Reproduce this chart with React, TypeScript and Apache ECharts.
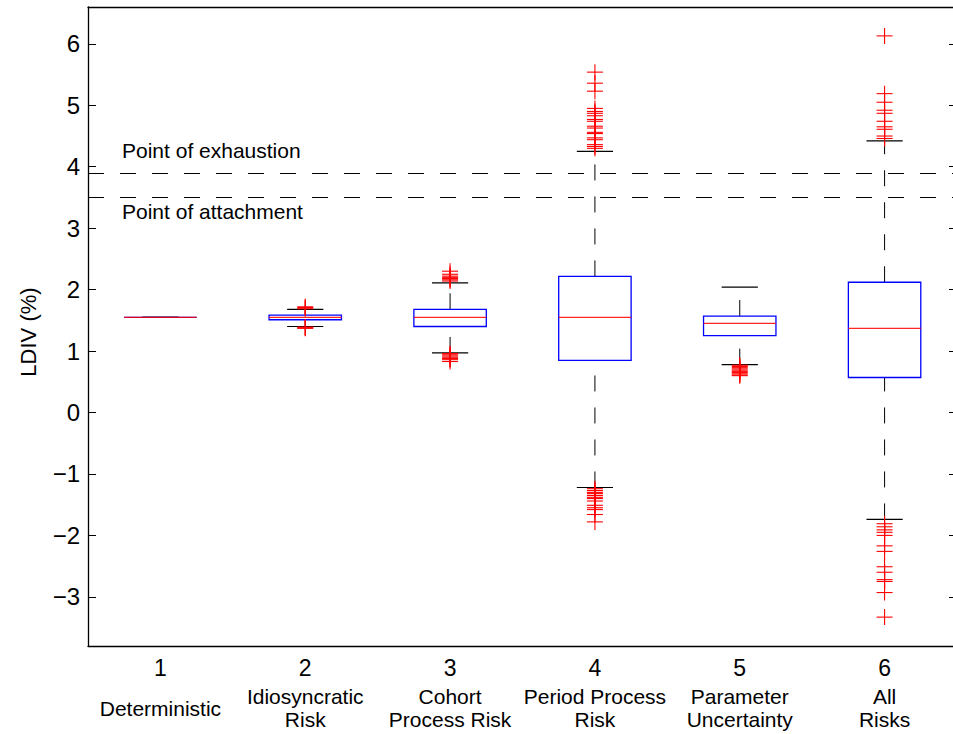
import React, { useEffect, useRef } from 'react';
import * as echarts from 'echarts';

const categories = ['1', '2', '3', '4', '5', '6'];
const categoryNames = [
  'Deterministic',
  'Idiosyncratic\nRisk',
  'Cohort\nProcess Risk',
  'Period Process\nRisk',
  'Parameter\nUncertainty',
  'All\nRisks',
];

const lowerWhisker = [1.55, 1.40, 0.97, -1.22, 0.78, -1.74];
const q1 = [1.55, 1.51, 1.40, 0.85, 1.25, 0.57];
const medians = [1.55, 1.55, 1.55, 1.55, 1.45, 1.37];
const q3 = [1.55, 1.585, 1.68, 2.215, 1.57, 2.12];
const upperWhisker = [1.55, 1.68, 2.11, 4.25, 2.04, 4.42];

const outliers1: number[] = [];
const outliers2 = [1.69, 1.71, 1.72, 1.39, 1.38, 1.37];
const outliers3 = [2.14, 2.16, 2.18, 2.20, 2.22, 2.25, 2.30, 0.96, 0.94, 0.92, 0.90, 0.88, 0.86, 0.83];
const outliers4 = [
  5.54, 5.36, 5.23, 4.95, 4.90, 4.87, 4.83, 4.77, 4.74, 4.66, 4.63, 4.56, 4.54, 4.47, 4.44, 4.36, 4.33, 4.30,
  -1.24, -1.27, -1.30, -1.32, -1.35, -1.38, -1.40, -1.44, -1.51, -1.55, -1.58, -1.66, -1.78,
];
const outliers5 = [0.77, 0.75, 0.73, 0.71, 0.69, 0.67, 0.65, 0.63, 0.61, 0.60];
const outliers6 = [
  6.13, 5.19, 5.05, 4.92, 4.87, 4.74, 4.65, 4.61, 4.50, 4.46,
  -1.81, -1.86, -1.91, -1.95, -2.00, -2.17, -2.26, -2.51, -2.60, -2.72, -2.75, -2.93, -3.33,
];
const outlierLists = [outliers1, outliers2, outliers3, outliers4, outliers5, outliers6];

const exhaustionLevel = 3.9;
const attachmentLevel = 3.5;
const yMin = -3.8;
const yMax = 6.6;

const FONT = '"Liberation Sans", Arial, Helvetica, sans-serif';

export default function App() {
  const ref = useRef<HTMLDivElement>(null);

  useEffect(() => {
    if (!ref.current) return;
    const chart = echarts.init(ref.current, undefined, { renderer: 'svg' });

    const boxData = categories.map((_, i) => [i, lowerWhisker[i], q1[i], medians[i], q3[i], upperWhisker[i]]);
    const outlierData: number[][] = [];
    outlierLists.forEach((list, i) => list.forEach((v) => outlierData.push([i, v])));

    const yFmt = (v: number) => {
      if (Math.abs(v - Math.round(v)) > 1e-6) return '';
      const r = Math.round(v);
      return r < 0 ? '\u2212' + Math.abs(r) : String(r);
    };

    const axisLineStyle = { color: '#000', width: 1.3 };

    const option: any = {
      animation: false,
      backgroundColor: '#fff',
      grid: { left: 88, right: -4, top: 7, bottom: 88, containLabel: false, outerBoundsMode: 'none' },
      xAxis: [
        {
          type: 'category',
          data: categories,
          position: 'bottom',
          axisLine: { onZero: false, lineStyle: axisLineStyle },
          axisTick: { inside: true, alignWithLabel: true, length: 8, lineStyle: { color: '#000', width: 1 } },
          axisLabel: { color: '#000', fontSize: 23, fontFamily: FONT, margin: 22, verticalAlign: 'middle' },
          splitLine: { show: false },
        },
        {
          type: 'category',
          data: categories,
          position: 'top',
          axisLine: { onZero: false, lineStyle: axisLineStyle },
          axisTick: { inside: true, alignWithLabel: true, length: 8, lineStyle: { color: '#000', width: 1 } },
          axisLabel: { show: false },
          splitLine: { show: false },
        },
        {
          type: 'category',
          data: categoryNames,
          position: 'bottom',
          axisLine: { show: false, onZero: false },
          axisTick: { show: false },
          axisLabel: {
            color: '#000',
            fontSize: 21,
            fontFamily: FONT,
            margin: 62,
            lineHeight: 23,
            verticalAlign: 'middle',
            align: 'center',
            interval: 0,
          },
          splitLine: { show: false },
        },
      ],
      yAxis: [
        {
          type: 'value',
          min: yMin,
          max: yMax,
          splitNumber: 10,
          minInterval: 1,
          maxInterval: 1,
          position: 'left',
          axisLine: { show: true, onZero: false, lineStyle: axisLineStyle },
          axisTick: { show: true, inside: true, length: 8, lineStyle: { color: '#000', width: 1 } },
          axisLabel: { color: '#000', fontSize: 24, fontFamily: FONT, margin: 8, formatter: yFmt },
          splitLine: { show: false },
        },
        {
          type: 'value',
          min: yMin,
          max: yMax,
          splitNumber: 10,
          minInterval: 1,
          maxInterval: 1,
          position: 'right',
          axisLine: { show: true, onZero: false, lineStyle: axisLineStyle },
          axisTick: { show: true, inside: true, length: 8, lineStyle: { color: '#000', width: 1 } },
          axisLabel: { show: false },
          splitLine: { show: false },
        },
      ],
      graphic: [
        {
          type: 'text',
          left: 122,
          top: 140,
          style: { text: 'Point of exhaustion', fill: '#000', font: `21px ${FONT}` },
        },
        {
          type: 'text',
          left: 122,
          top: 201,
          style: { text: 'Point of attachment', fill: '#000', font: `21px ${FONT}` },
        },
        {
          type: 'text',
          x: 28,
          y: 332,
          rotation: Math.PI / 2,
          style: {
            text: 'LDIV (%)',
            fill: '#000',
            font: `22px ${FONT}`,
            align: 'center',
            verticalAlign: 'middle',
          },
        },
      ],
      series: [
        {
          type: 'custom',
          name: 'boxes',
          xAxisIndex: 0,
          yAxisIndex: 0,
          data: boxData,
          encode: { x: 0, y: [1, 2, 3, 4, 5] },
          renderItem: (params: any, api: any) => {
            const idx = api.value(0);
            const band = api.size([1, 0])[0];
            const boxW = band * 0.5;
            const capW = band * 0.25;
            const pLW = api.coord([idx, api.value(1)]);
            const pQ1 = api.coord([idx, api.value(2)]);
            const pMed = api.coord([idx, api.value(3)]);
            const pQ3 = api.coord([idx, api.value(4)]);
            const pUW = api.coord([idx, api.value(5)]);
            const x = pMed[0];
            const wStyle = { stroke: '#000', lineWidth: 1, lineDash: [16, 16], fill: null };
            const cStyle = { stroke: '#000', lineWidth: 1.2, fill: null };
            return {
              type: 'group',
              children: [
                { type: 'line', shape: { x1: x, y1: pLW[1], x2: x, y2: pQ1[1] }, style: wStyle },
                { type: 'line', shape: { x1: x, y1: pQ3[1], x2: x, y2: pUW[1] }, style: wStyle },
                { type: 'line', shape: { x1: x - capW / 2, y1: pLW[1], x2: x + capW / 2, y2: pLW[1] }, style: cStyle },
                { type: 'line', shape: { x1: x - capW / 2, y1: pUW[1], x2: x + capW / 2, y2: pUW[1] }, style: cStyle },
                {
                  type: 'rect',
                  shape: { x: x - boxW / 2, y: pQ3[1], width: boxW, height: pQ1[1] - pQ3[1] },
                  style: { fill: 'none', stroke: '#0000ff', lineWidth: 1.3 },
                },
                {
                  type: 'line',
                  shape: { x1: x - boxW / 2, y1: pMed[1], x2: x + boxW / 2, y2: pMed[1] },
                  style: { stroke: '#ff0000', lineWidth: 1.2, opacity: 0.85 },
                },
              ],
            };
          },
          markLine: {
            silent: true,
            symbol: ['none', 'none'],
            label: { show: false },
            lineStyle: { color: '#000', type: [16, 16], width: 1.2 },
            data: [{ yAxis: exhaustionLevel }, { yAxis: attachmentLevel }],
          },
          z: 2,
        },
        {
          type: 'custom',
          name: 'outliers',
          xAxisIndex: 0,
          yAxisIndex: 0,
          data: outlierData,
          encode: { x: 0, y: 1 },
          renderItem: (params: any, api: any) => {
            const p = api.coord([api.value(0), api.value(1)]);
            const s = 8;
            const st = { stroke: '#ff0000', lineWidth: 1.1, fill: null };
            return {
              type: 'group',
              children: [
                { type: 'line', shape: { x1: p[0] - s, y1: p[1], x2: p[0] + s, y2: p[1] }, style: st },
                { type: 'line', shape: { x1: p[0], y1: p[1] - s, x2: p[0], y2: p[1] + s }, style: st },
              ],
            };
          },
          z: 3,
        },
      ],
    };

    chart.setOption(option);
    return () => chart.dispose();
  }, []);

  return (
    <div
      ref={ref}
      style={{ position: 'fixed', left: 0, top: 0, width: 953, height: 734, background: '#fff' }}
    />
  );
}
